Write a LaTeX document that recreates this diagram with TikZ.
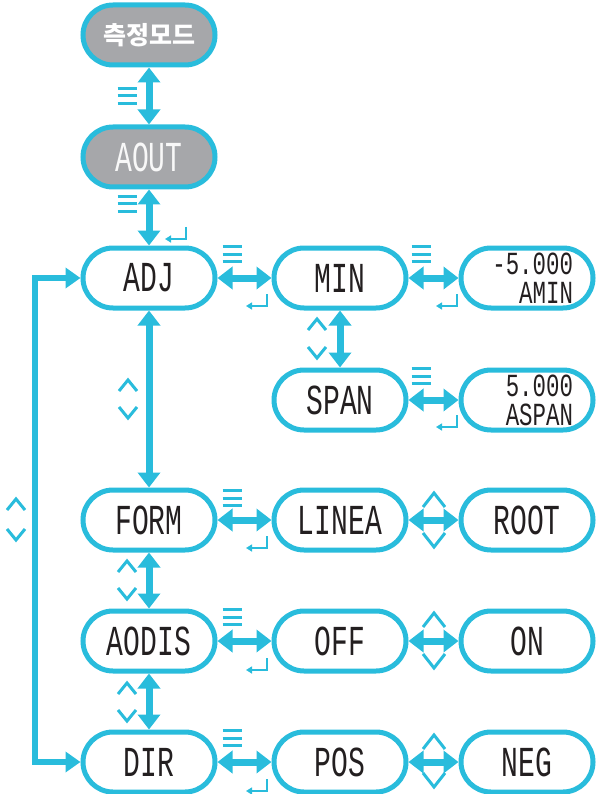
\documentclass[tikz,border=0pt]{standalone}
\usepackage{fontspec}
\usepackage{graphicx}
\usetikzlibrary{arrows.meta}
\newfontfamily\lcd[FakeStretch=0.8]{Liberation Mono}
\newfontfamily\krfont{Noto Sans CJK KR}
\newcommand\lcdt[1]{\scalebox{1}[1.22]{#1}}
\newcommand\lcds[1]{\scalebox{1}[1.15]{#1}}
\definecolor{cy}{HTML}{29BCDC}
\definecolor{gb}{HTML}{A6A7AA}
\definecolor{tx}{HTML}{231F20}
\tikzset{
  box/.style={draw=cy, line width=5pt, fill=white, minimum width=132pt, minimum height=60pt,
    rounded corners=30pt, inner sep=0pt, text=tx, font=\lcd\fontsize{35}{35}\selectfont},
  gbox/.style={box, fill=gb, text=white!92!gb},
  twoline/.style={box, align=right, text width=92pt, font=\lcd\fontsize{28}{27}\selectfont},
  conn/.style={draw=cy, line width=7pt, {Triangle[width=22pt,length=15pt]}-{Triangle[width=22pt,length=15pt]}},
  loopc/.style={draw=cy, line width=6pt, {Triangle[width=20pt,length=15pt]}-{Triangle[width=20pt,length=15pt]}},
  sym/.style={draw=cy, line width=3pt},
  menu/.pic={\draw[sym] (-9.5,-7.5) -- (9.5,-7.5) (-9.5,0) -- (9.5,0) (-9.5,7.5) -- (9.5,7.5);},
  enter/.pic={\draw[draw=cy, line width=2.4pt, -{Triangle[width=7pt,length=6pt]}] (10,-7) -- (10,5) -- (-11,5);},
  up/.pic={\draw[sym] (-9,6) -- (0,-5) -- (9,6);},
  down/.pic={\draw[sym] (-9,-6) -- (0,5) -- (9,-6);},
  bigup/.pic={\draw[sym] (-11,7) -- (0,-7) -- (11,7);},
  bigdown/.pic={\draw[sym] (-11,-7) -- (0,7) -- (11,-7);},
}
\begin{document}
\begin{tikzpicture}[x=1pt, y=-1pt]
\useasboundingbox (0,0) rectangle (597,794);
% column 1
\node[gbox, font=\krfont\bfseries\fontsize{25}{25}\selectfont, text=white] (mode) at (149,35) {측정모드};
\node[gbox] (aout) at (149,157) {\lcdt{AOUT}};
\node[box] (adj) at (149,278) {\lcdt{ADJ}};
\node[box] (form) at (149,520) {\lcdt{FORM}};
\node[box] (aodis) at (149,641) {\lcdt{AODIS}};
\node[box] (dir) at (149,762) {\lcdt{DIR}};
% column 2
\node[box] (min) at (340,278) {\lcdt{MIN}};
\node[box] (span) at (340,400) {\lcdt{SPAN}};
\node[box] (linea) at (340,520) {\lcdt{LINEA}};
\node[box] (off) at (340,641) {\lcdt{OFF}};
\node[box] (pos) at (340,762) {\lcdt{POS}};
% column 3
\node[twoline] (amin) at (527,278) {\lcds{-5.000}\\[2pt]\lcds{AMIN}};
\node[twoline] (aspan) at (527,400) {\lcds{5.000}\\[2pt]\lcds{ASPAN}};
\node[box] (root) at (527,520) {\lcdt{ROOT}};
\node[box] (on) at (527,641) {\lcdt{ON}};
\node[box] (neg) at (527,762) {\lcdt{NEG}};
% connectors
\draw[conn] (mode.south) -- (aout.north);
\draw[conn] (aout.south) -- (adj.north);
\draw[conn] (adj.south) -- (form.north);
\draw[conn] (form.south) -- (aodis.north);
\draw[conn] (aodis.south) -- (dir.north);
\draw[conn] (min.south) -- (span.north);
\draw[conn] (adj.east) -- (min.west);
\draw[conn] (min.east) -- (amin.west);
\draw[conn] (span.east) -- (aspan.west);
\draw[conn] (form.east) -- (linea.west);
\draw[conn] (linea.east) -- (root.west);
\draw[conn] (aodis.east) -- (off.west);
\draw[conn] (off.east) -- (on.west);
\draw[conn] (dir.east) -- (pos.west);
\draw[conn] (pos.east) -- (neg.west);
\coordinate (ltop) at (35,278);
\coordinate (lbot) at (35,762);
\draw[loopc] (adj.west) -- (ltop) -- (lbot) -- (dir.west);
% symbols
\foreach \p in {(127,96),(127,204),(232,254),(421,254),(421,376),(232,498),(232,617),(232,738)}
  \pic at \p {menu};
\foreach \p in {(176,234),(257,301),(447,301),(447,422),(257,543),(257,665),(257,786)}
  \pic at \p {enter};
\foreach \x/\a/\b in {317/324/353, 128/385/413, 127/566/594, 127/688/716, 16/504/535}{
  \pic at (\x,\a) {up};
  \pic at (\x,\b) {down};
}
\foreach \a/\b in {500/540, 620/661, 742/780}{
  \pic at (434,\a) {bigup};
  \pic at (434,\b) {bigdown};
}
\end{tikzpicture}
\end{document}
